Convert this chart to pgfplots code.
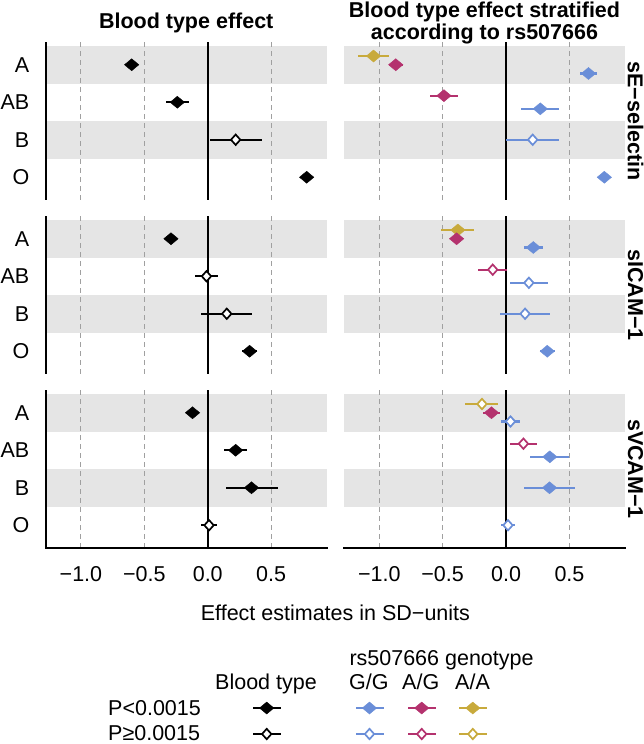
\documentclass[border=0pt]{standalone}
\usepackage{pgfplots}
\pgfplotsset{compat=1.18}
\usepackage{fontspec}
\setmainfont{Liberation Sans}
\definecolor{cGG}{HTML}{6A8ED8}
\definecolor{cAG}{HTML}{B4326E}
\definecolor{cAA}{HTML}{C8AA3C}
\definecolor{band}{HTML}{E5E5E5}
\definecolor{gridc}{HTML}{A0A0A0}
\newcommand\fs{\fontsize{21.5bp}{25.8bp}\selectfont}

\pgfplotsset{
  fillpt/.style={only marks, mark=diamond*, mark size=6bp,
    mark options={xscale=1.6, draw=#1, fill=#1, line width=0.4bp, solid},
    error bars/.cd, x dir=both, x explicit, error mark=none,
    error bar style={line width=2.3bp, draw=#1, solid}},
  openpt/.style={only marks, mark=diamond*, mark size=5.2bp,
    mark options={xscale=1.2, draw=#1, fill=white, line width=1.7bp, solid},
    error bars/.cd, x dir=both, x explicit, error mark=none,
    error bar style={line width=2.3bp, draw=#1, solid}},
  panel/.style={scale only axis, width=281bp, height=157.5bp,
    xmin=-1.278, xmax=0.938, ymin=0.4, ymax=4.6,
    axis line style={draw=none}, xtick=\empty, ytick=\empty, clip=false,
    major tick length=0pt, anchor=north west},
  leftp/.style={ytick={1,2,3,4}, yticklabels={O,B,AB,A},
    yticklabel style={font=\fs, inner sep=0pt, anchor=east, xshift=-16.2bp}},
  bottomp/.style={xtick={-1,-0.5,0,0.5}, xticklabels={−1.0,−0.5,0.0,0.5},
    xticklabel style={font=\fs, inner sep=0pt, anchor=north, yshift=-19bp}},
}
\newcommand\bg{%
  \fill[band] (axis cs:-1.278,3.5) rectangle (axis cs:0.938,4.5);
  \fill[band] (axis cs:-1.278,1.5) rectangle (axis cs:0.938,2.5);
  \draw[gridc, line width=1bp, dash pattern=on 4.5bp off 4.5bp] (axis cs:-1,0.4) -- (axis cs:-1,4.6);
  \draw[gridc, line width=1bp, dash pattern=on 4.5bp off 4.5bp] (axis cs:-0.5,0.4) -- (axis cs:-0.5,4.6);
  \draw[gridc, line width=1bp, dash pattern=on 4.5bp off 4.5bp] (axis cs:0.5,0.4) -- (axis cs:0.5,4.6);
  \draw[black, line width=2bp] (axis cs:0,0.4) -- (axis cs:0,4.6);
}
\newcommand\lspine{\draw[black, line width=2bp] (axis cs:-1.278,0.4) -- (axis cs:-1.278,4.6);}
\newcommand\bspine{\draw[black, line width=2bp, line cap=rect] (axis cs:-1.278,0.4) -- (axis cs:0.938,0.4);}

\begin{document}
\begin{tikzpicture}
\path[use as bounding box] (0,0) rectangle (644bp,-744bp);

% overlay axis for titles, labels and legend
\begin{axis}[hide axis, scale only axis, width=644bp, height=744bp,
  xmin=0, xmax=644, ymin=0, ymax=744, y dir=reverse,
  at={(0,0)}, anchor=north west, clip=false]
  \node[anchor=base, font=\fs\bfseries] at (axis cs:186.2,28.9) {Blood type effect};
  \node[anchor=base, font=\fs\bfseries] at (axis cs:484.5,17.3) {Blood type effect stratified};
  \node[anchor=base, font=\fs\bfseries] at (axis cs:484.5,39.0) {according to rs507666};
  \node[rotate=-90, anchor=center, font=\fs\bfseries] at (axis cs:635.5,121) {sE−selectin};
  \node[rotate=-90, anchor=center, font=\fs\bfseries] at (axis cs:635.5,295) {sICAM−1};
  \node[rotate=-90, anchor=center, font=\fs\bfseries] at (axis cs:635.5,469) {sVCAM−1};
  \node[anchor=base, font=\fs] at (axis cs:335.4,620) {Effect estimates in SD−units};
  \node[anchor=base west, font=\fs, inner sep=0pt] at (axis cs:349.3,665.4) {rs507666 genotype};
  \node[anchor=base west, font=\fs, inner sep=0pt] at (axis cs:215,689.4) {Blood type};
  \node[anchor=base west, font=\fs, inner sep=0pt] at (axis cs:349,689.4) {G/G};
  \node[anchor=base west, font=\fs, inner sep=0pt] at (axis cs:402,689.4) {A/G};
  \node[anchor=base west, font=\fs, inner sep=0pt] at (axis cs:455,689.4) {A/A};
  \node[anchor=base west, font=\fs, inner sep=0pt] at (axis cs:108,715.5) {P<0.0015};
  \node[anchor=base west, font=\fs, inner sep=0pt] at (axis cs:108,740) {P≥0.0015};
  \addplot[fillpt=black] coordinates {(266.7,708) +- (14,0)};
  \addplot[openpt=black] coordinates {(266.7,734) +- (14,0)};
  \addplot[fillpt=cGG] coordinates {(369.5,708) +- (14,0)};
  \addplot[openpt=cGG] coordinates {(369.5,734) +- (14,0)};
  \addplot[fillpt=cAG] coordinates {(421.7,708) +- (14,0)};
  \addplot[openpt=cAG] coordinates {(421.7,734) +- (14,0)};
  \addplot[fillpt=cAA] coordinates {(472.8,708) +- (14,0)};
  \addplot[openpt=cAA] coordinates {(472.8,734) +- (14,0)};
\end{axis}

% ---------- sE-selectin ----------
\begin{axis}[panel, leftp, at={(45.7bp,-42.25bp)}]
  \bg \lspine
  \addplot[fillpt=black] coordinates {(-0.60,4) +- (0.04,0) (-0.24,3) +- (0.09,0) (0.78,1) +- (0.03,0)};
  \addplot[openpt=black] coordinates {(0.22,2) +- (0.205,0)};
\end{axis}
\begin{axis}[panel, at={(344bp,-42.25bp)}]
  \bg
  \addplot[fillpt=cAA] coordinates {(-1.045,4.233) +- (0.125,0)};
  \addplot[fillpt=cAG] coordinates {(-0.87,4) +- (0.055,0) (-0.49,3.175) +- (0.11,0)};
  \addplot[fillpt=cGG] coordinates {(0.65,3.767) +- (0.07,0) (0.27,2.825) +- (0.15,0) (0.775,1) +- (0.03,0)};
  \addplot[openpt=cGG] coordinates {(0.21,2) +- (0.21,0)};
\end{axis}

% ---------- sICAM-1 ----------
\begin{axis}[panel, leftp, at={(45.7bp,-216.25bp)}]
  \bg \lspine
  \addplot[fillpt=black] coordinates {(-0.29,4) +- (0.04,0) (0.33,1) +- (0.06,0)};
  \addplot[openpt=black] coordinates {(-0.01,3) +- (0.09,0) (0.15,2) +- (0.20,0)};
\end{axis}
\begin{axis}[panel, at={(344bp,-216.25bp)}]
  \bg
  \addplot[fillpt=cAA] coordinates {(-0.38,4.233) +- (0.13,0)};
  \addplot[fillpt=cAG] coordinates {(-0.39,4) +- (0.04,0)};
  \addplot[openpt=cAG] coordinates {(-0.105,3.175) +- (0.115,0)};
  \addplot[fillpt=cGG] coordinates {(0.215,3.767) +- (0.075,0) (0.325,1) +- (0.06,0)};
  \addplot[openpt=cGG] coordinates {(0.18,2.825) +- (0.15,0) (0.15,2) +- (0.20,0)};
\end{axis}

% ---------- sVCAM-1 ----------
\begin{axis}[panel, leftp, bottomp, at={(45.7bp,-390.25bp)}]
  \bg \lspine \bspine
  \addplot[fillpt=black] coordinates {(-0.12,4) +- (0.05,0) (0.22,3) +- (0.09,0) (0.345,2) +- (0.205,0)};
  \addplot[openpt=black] coordinates {(0.01,1) +- (0.06,0)};
\end{axis}
\begin{axis}[panel, bottomp, at={(344bp,-390.25bp)}]
  \bg \bspine
  \addplot[openpt=cAA] coordinates {(-0.19,4.233) +- (0.13,0)};
  \addplot[fillpt=cAG] coordinates {(-0.115,4) +- (0.065,0)};
  \addplot[openpt=cAG] coordinates {(0.137,3.175) +- (0.107,0)};
  \addplot[openpt=cGG] coordinates {(0.035,3.767) +- (0.075,0) (0.015,1) +- (0.055,0)};
  \addplot[fillpt=cGG] coordinates {(0.345,2.825) +- (0.155,0) (0.343,2) +- (0.203,0)};
\end{axis}
\end{tikzpicture}
\end{document}
